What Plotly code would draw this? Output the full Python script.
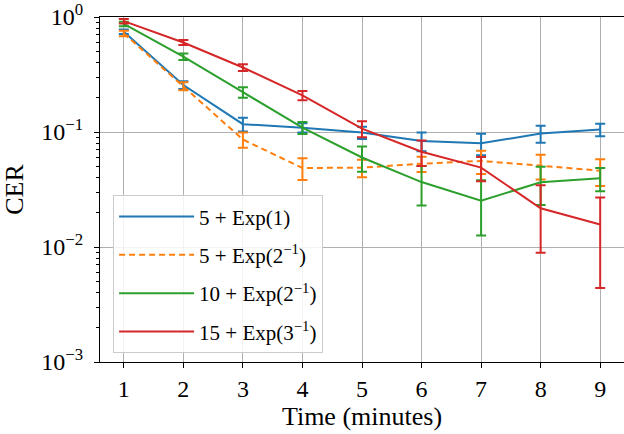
import plotly.graph_objects as go

# Character error rate vs. elapsed time for four delay distributions
minutes = [1, 2, 3, 4, 5, 6, 7, 8, 9]

series_names = [
    "5 + Exp(1)",
    "5 + Exp(2<sup>−1</sup>)",
    "10 + Exp(2<sup>−1</sup>)",
    "15 + Exp(3<sup>−1</sup>)",
]

cer_exp1 = [0.745, 0.256, 0.117, 0.109, 0.099, 0.0835, 0.0797, 0.097, 0.105]
err_exp1 = [0.035, 0.02, 0.016, 0.01, 0.012, 0.0155, 0.017, 0.0165, 0.013]

cer_exp2 = [0.72, 0.251, 0.086, 0.0486, 0.049, 0.053, 0.056, 0.051, 0.046]
err_exp2 = [0.04, 0.02, 0.013, 0.0104, 0.0085, 0.008, 0.0128, 0.0123, 0.012]

cer_exp2_10 = [0.87, 0.452, 0.222, 0.109, 0.060, 0.0367, 0.0253, 0.0365, 0.0396]
err_exp2_10 = [0.04, 0.03, 0.023, 0.013, 0.0148, 0.0138, 0.0127, 0.0133, 0.009]

cer_exp3_15 = [0.92, 0.60, 0.364, 0.208, 0.107, 0.0674, 0.049, 0.0217, 0.0157]
err_exp3_15 = [0.04, 0.03, 0.025, 0.019, 0.017, 0.0168, 0.0117, 0.0128, 0.0113]

y_tickvals = [1e-3, 1e-2, 1e-1, 1]
y_ticktext = ["10<sup>−3</sup>", "10<sup>−2</sup>", "10<sup>−1</sup>", "10<sup>0</sup>"]
y_minor = [m * 10.0 ** e for e in (-3, -2, -1) for m in range(2, 10)]

colors = ["#1f77b4", "#ff7f0e", "#2ca02c", "#d62728"]
dashes = ["solid", "6px,4px", "solid", "solid"]
values = [cer_exp1, cer_exp2, cer_exp2_10, cer_exp3_15]
errors = [err_exp1, err_exp2, err_exp2_10, err_exp3_15]

fig = go.Figure()
for i, (name, ys, es, c, d) in enumerate(zip(series_names, values, errors, colors, dashes)):
    fig.add_trace(go.Scatter(
        x=minutes, y=ys, name=name, mode="lines", legendgroup=f"g{i}",
        line=dict(color=c, width=2, dash=d),
        error_y=dict(type="data", array=es, symmetric=True,
                     color=c, thickness=2, width=5),
    ))

# invisible overlay trace on a twin log axis that carries the minor ticks
fig.add_trace(go.Scatter(x=[minutes[0]], y=[y_tickvals[-1]], yaxis="y2",
                         mode="markers", marker=dict(opacity=0),
                         showlegend=False, hoverinfo="skip"))

font_family = "Liberation Serif"
fig.update_layout(
    width=624, height=434,
    margin=dict(l=100, r=0, t=17, b=72),
    paper_bgcolor="white", plot_bgcolor="white",
    font=dict(family=font_family, size=24, color="black"),
    showlegend=True,
    legend=dict(
        x=0.025, y=0.025, xanchor="left", yanchor="bottom",
        bgcolor="rgba(255,255,255,0.85)", bordercolor="#cccccc", borderwidth=1,
        font=dict(family=font_family, size=21),
        itemwidth=75, tracegroupgap=8,
    ),
    xaxis=dict(
        range=[0.6, 9.4], tickvals=minutes,
        showgrid=True, gridcolor="#b0b0b0", gridwidth=1,
        showline=True, linecolor="black", linewidth=1.2, mirror=True,
        ticks="outside", ticklen=5, tickcolor="black",
        tickfont=dict(size=24),
        title=dict(text="Time (minutes)", font=dict(size=26), standoff=0),
        zeroline=False,
    ),
    yaxis=dict(
        type="log", range=[-3, 0],
        tickvals=y_tickvals, ticktext=y_ticktext,
        showgrid=True, gridcolor="#b0b0b0", gridwidth=1,
        showline=True, linecolor="black", linewidth=1.2, mirror=True,
        ticks="outside", ticklen=5, tickcolor="black",
        tickfont=dict(size=24), ticklabelstandoff=6,
        title=dict(text="CER", font=dict(size=26), standoff=14),
        zeroline=False,
    ),
    yaxis2=dict(
        type="log", range=[-3, 0], overlaying="y", side="left",
        tickmode="array", tickvals=y_minor, showticklabels=False,
        ticks="outside", ticklen=3, tickwidth=1, tickcolor="black",
        showgrid=False, zeroline=False, showline=False,
    ),
)

fig.write_html("out.html")
